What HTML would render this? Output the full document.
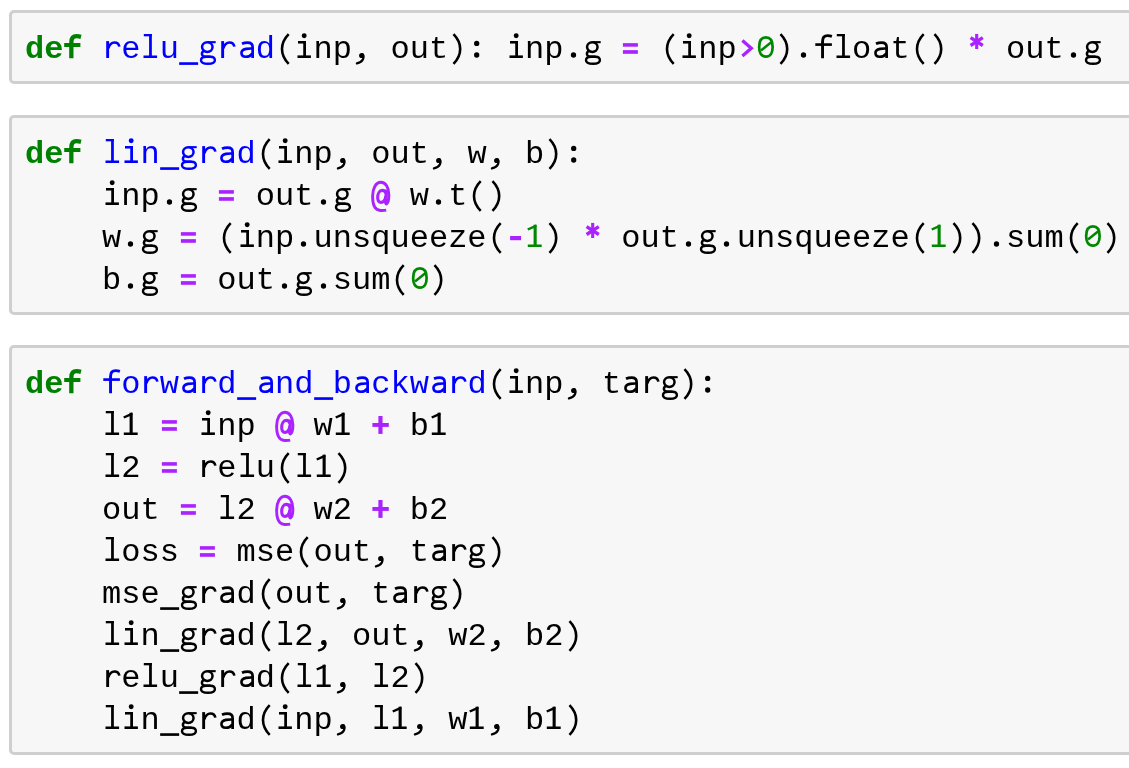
<!DOCTYPE html>
<html><head><meta charset="utf-8">
<style>
html,body{margin:0;padding:0;background:#fff;width:1129px;height:768px;overflow:hidden;position:relative}
.box{position:absolute;left:9px;width:1200px;box-sizing:border-box;border:3px solid #cfcfcf;border-radius:5px;background:#f7f7f7}
.code{position:absolute;left:25.3px;margin:0;font-family:"Liberation Mono",monospace;font-size:32.05px;line-height:42px;color:#000;white-space:pre;-webkit-font-smoothing:antialiased;will-change:transform}
.k{color:#008000;font-weight:bold}
.f{color:#0000ff}
.o{color:#aa22ff;font-weight:bold}
.n{color:#008800}
.G{position:relative;color:transparent}
.sv{position:absolute;left:0;top:0;width:19.2333px;height:37px;overflow:visible}
.G.f .sv{color:#0000ff} .G .sv{color:#000} .G.n .sv{color:#008800} .G.o .sv{color:#aa22ff} .G.k .sv{color:#008000}
.U{position:relative;top:3px}
</style></head><body>
<svg width="0" height="0" style="position:absolute"><defs>
<g id="gG" fill="none" stroke="currentColor">
<ellipse cx="9.3" cy="-10.95" rx="5.25" ry="4.85" stroke-width="2.5"/>
<path d="M10 -15.85 H17.7" stroke-width="2.1"/>
<path d="M5.4 -7.2 Q3.0 -4.8 4.4 -2.6 Q5.2 -1.4 8 -1.3 L12.5 -1.25" stroke-width="2.4"/>
<path d="M8 -1.3 L12.5 -1.25 C15.8 -1.2 16.9 0.2 16.9 2.2 C16.9 4.4 14.4 5.8 10 5.8 C5.5 5.8 3.0 4.3 3.0 2.3 C3.0 0.5 4.5 -1.3 8 -1.3 Z" stroke-width="2.4"/>
</g>
<g id="gZ" fill="none" stroke="currentColor">
<path d="M9.9 -20.7 C14.8 -20.7 16.65 -16.4 16.65 -11.0 C16.65 -5.6 14.8 -1.3 9.9 -1.3 C5.0 -1.3 3.15 -5.6 3.15 -11.0 C3.15 -16.4 5.0 -20.7 9.9 -20.7 Z" stroke-width="2.7"/>
<path d="M5.0 -7.6 L15.3 -15.7" stroke-width="2.5"/>
</g>
<g id="gA" fill="none" stroke="currentColor">
<path d="M15.2 5.1 C13.5 5.5 11.5 5.5 9.5 5.45 C4.5 5.3 1.6 0 1.6 -8.7 C1.6 -17 5 -22.7 9.8 -22.7 C14.6 -22.7 17.9 -17.5 17.9 -10 C17.9 -4.5 16.8 -1.1 14.8 -1.1" stroke-width="2.9"/>
<path d="M15 -11.5 C14.2 -14.2 12.8 -14.6 11.2 -14.6 C8.2 -14.6 6.7 -11 6.7 -7.5 C6.7 -4 8 -2.6 10 -2.6 C12.5 -2.6 14.2 -5 15 -9" stroke-width="3.1"/>
<path d="M15.6 -15.4 L14.6 -4 C14.4 -1.8 14.8 -1.1 15.6 -1.1" stroke-width="3.1"/>
</g>
<g id="gD"><circle cx="9.5" cy="-3.0" r="2.65" fill="currentColor"/></g>
<g id="gS" fill="none" stroke="currentColor" stroke-width="3.1">
<path d="M9.7 -24.1 V-9.0"/>
<path d="M3.6 -20.5 L15.8 -12.5" stroke-width="3.3"/>
<path d="M3.6 -12.5 L15.8 -20.5" stroke-width="3.3"/>
</g>
<g id="gE" fill="currentColor">
<rect x="1.9" y="-14.85" width="15.0" height="3.55"/>
<rect x="1.9" y="-7.85" width="15.0" height="3.65"/>
</g>
<g id="gP" fill="none" stroke="currentColor" stroke-width="2.6">
<path d="M13.7 -23.9 C8.9 -19 7.0 -14 7.0 -9.0 C7.0 -4 8.9 1 13.7 5.9"/>
</g>
<g id="gQ" fill="none" stroke="currentColor" stroke-width="2.6">
<path d="M5.5 -23.9 C10.3 -19 12.2 -14 12.2 -9.0 C12.2 -4 10.3 1 5.5 5.9"/>
</g>
<g id="gC"><circle cx="9.7" cy="-2.5" r="2.6" fill="currentColor"/>
<path d="M10.5 -3.7 C12.6 -1.1 11.6 3.8 4.9 5.4" fill="none" stroke="currentColor" stroke-width="2.2" stroke-linecap="round"/></g>
<g id="gK" fill="currentColor"><circle cx="9.7" cy="-14.6" r="2.65"/><circle cx="9.7" cy="-3.0" r="2.65"/></g>
<g id="gM" fill="currentColor"><rect x="4.1" y="-11.0" width="11.0" height="4.2"/></g>
<g id="gR" fill="none" stroke="currentColor" stroke-width="3.3" stroke-linejoin="miter">
<path d="M5.4 -17.4 L14.3 -9.7 L5.4 -2.0"/>
</g>
<g id="gL" fill="currentColor"><rect x="7.4" y="-19.0" width="4.15" height="17.9"/><rect x="1.4" y="-12.0" width="16.4" height="3.9"/></g>
<g id="gI" fill="currentColor">
<rect x="3.8" y="-24.0" width="8.0" height="2.3"/>
<rect x="9.1" y="-24.0" width="2.75" height="24.0"/>
<rect x="3.5" y="-2.5" width="13.6" height="2.5"/>
</g>
<g id="gO" fill="currentColor">
<rect x="8.6" y="-22.3" width="3.1" height="22.3"/>
<path d="M2.2 -18.5 L11.0 -22.5 L11.5 -20.0 L3.3 -16.4 Z"/>
<rect x="2.8" y="-2.5" width="13.9" height="2.5"/>
</g>
<g id="gU" fill="currentColor"><rect x="0.15" y="4.25" width="19.0" height="2.65"/></g>
<g id="gF"><path d="M8.55 0.2 V-16.5 C8.55 -21.2 10.8 -22.35 13.6 -22.35 C15.4 -22.35 16.7 -22.0 17.9 -21.6" fill="none" stroke="currentColor" stroke-width="2.9"/>
<rect x="1.3" y="-14.75" width="16.6" height="2.65" fill="currentColor"/></g>
<g id="gFB"><path d="M8.35 0.2 V-15.5 C8.35 -20.8 10.8 -21.8 13.6 -21.8 C15.6 -21.8 16.9 -21.5 18.0 -21.2" fill="none" stroke="currentColor" stroke-width="4.3"/>
<rect x="1.2" y="-15.0" width="16.2" height="4.0" fill="currentColor"/></g>
<g id="gII" fill="currentColor">
<circle cx="10.2" cy="-22.3" r="2.45"/>
<rect x="4.0" y="-17.0" width="8.0" height="2.55"/>
<rect x="9.25" y="-17.0" width="2.75" height="17.0"/>
<rect x="3.5" y="-2.6" width="13.4" height="2.6"/>
</g>
<g id="gRr" fill="none" stroke="currentColor" transform="translate(0.7 0)">
<path d="M4.95 -16.9 V0" stroke-width="2.9"/>
<path d="M5.6 -9.6 C6.9 -13.8 9.2 -15.5 11.8 -15.5 C14.6 -15.5 16.1 -14.6 16.65 -11.4" stroke-width="2.6"/>
</g>
<g id="gAa" fill="none" stroke="currentColor" transform="translate(0.8 0)">
<path d="M4.2 -14.2 C6 -15.1 8 -15.35 9.8 -15.35 C13.3 -15.35 14.85 -14.0 14.85 -10.8 V0" stroke-width="2.7"/>
<path d="M14.85 -9.5 C12 -9.6 3.65 -9.9 3.65 -4.9 C3.65 -2.3 5.6 -1.25 7.9 -1.25 C10.6 -1.25 13.2 -2.4 14.85 -4.6" stroke-width="2.6"/>
</g>
</defs></svg>
<div class="box" style="top:10px;height:74px"></div>
<div class="box" style="top:115px;height:200px"></div>
<div class="box" style="top:345px;height:410px"></div>
<pre class="code" style="top:29px"><span class="k">de</span><span class="G k">f<svg class="sv" viewBox="0 -27 19.2333 37"><use href="#gFB"/></svg></span> <span class="G f">r<svg class="sv" viewBox="0 -27 19.2333 37"><use href="#gRr"/></svg></span><span class="f">e</span><span class="G f">l<svg class="sv" viewBox="0 -27 19.2333 37"><use href="#gI"/></svg></span><span class="f">u</span><span class="G f">_<svg class="sv" viewBox="0 -27 19.2333 37"><use href="#gU"/></svg></span><span class="G f">g<svg class="sv" viewBox="0 -27 19.2333 37"><use href="#gG"/></svg></span><span class="G f">r<svg class="sv" viewBox="0 -27 19.2333 37"><use href="#gRr"/></svg></span><span class="G f">a<svg class="sv" viewBox="0 -27 19.2333 37"><use href="#gAa"/></svg></span><span class="f">d</span><span class="G ">(<svg class="sv" viewBox="0 -27 19.2333 37"><use href="#gP"/></svg></span><span class="G ">i<svg class="sv" viewBox="0 -27 19.2333 37"><use href="#gII"/></svg></span>np<span class="G ">,<svg class="sv" viewBox="0 -27 19.2333 37"><use href="#gC"/></svg></span> out<span class="G ">)<svg class="sv" viewBox="0 -27 19.2333 37"><use href="#gQ"/></svg></span><span class="G ">:<svg class="sv" viewBox="0 -27 19.2333 37"><use href="#gK"/></svg></span> <span class="G ">i<svg class="sv" viewBox="0 -27 19.2333 37"><use href="#gII"/></svg></span>np<span class="G ">.<svg class="sv" viewBox="0 -27 19.2333 37"><use href="#gD"/></svg></span><span class="G ">g<svg class="sv" viewBox="0 -27 19.2333 37"><use href="#gG"/></svg></span> <span class="G o">=<svg class="sv" viewBox="0 -27 19.2333 37"><use href="#gE"/></svg></span> <span class="G ">(<svg class="sv" viewBox="0 -27 19.2333 37"><use href="#gP"/></svg></span><span class="G ">i<svg class="sv" viewBox="0 -27 19.2333 37"><use href="#gII"/></svg></span>np<span class="G o">&gt;<svg class="sv" viewBox="0 -27 19.2333 37"><use href="#gR"/></svg></span><span class="G n">0<svg class="sv" viewBox="0 -27 19.2333 37"><use href="#gZ"/></svg></span><span class="G ">)<svg class="sv" viewBox="0 -27 19.2333 37"><use href="#gQ"/></svg></span><span class="G ">.<svg class="sv" viewBox="0 -27 19.2333 37"><use href="#gD"/></svg></span><span class="G ">f<svg class="sv" viewBox="0 -27 19.2333 37"><use href="#gF"/></svg></span><span class="G ">l<svg class="sv" viewBox="0 -27 19.2333 37"><use href="#gI"/></svg></span>o<span class="G ">a<svg class="sv" viewBox="0 -27 19.2333 37"><use href="#gAa"/></svg></span>t<span class="G ">(<svg class="sv" viewBox="0 -27 19.2333 37"><use href="#gP"/></svg></span><span class="G ">)<svg class="sv" viewBox="0 -27 19.2333 37"><use href="#gQ"/></svg></span> <span class="G o">*<svg class="sv" viewBox="0 -27 19.2333 37"><use href="#gS"/></svg></span> out<span class="G ">.<svg class="sv" viewBox="0 -27 19.2333 37"><use href="#gD"/></svg></span><span class="G ">g<svg class="sv" viewBox="0 -27 19.2333 37"><use href="#gG"/></svg></span></pre>
<pre class="code" style="top:134px"><span class="k">de</span><span class="G k">f<svg class="sv" viewBox="0 -27 19.2333 37"><use href="#gFB"/></svg></span> <span class="G f">l<svg class="sv" viewBox="0 -27 19.2333 37"><use href="#gI"/></svg></span><span class="G f">i<svg class="sv" viewBox="0 -27 19.2333 37"><use href="#gII"/></svg></span><span class="f">n</span><span class="G f">_<svg class="sv" viewBox="0 -27 19.2333 37"><use href="#gU"/></svg></span><span class="G f">g<svg class="sv" viewBox="0 -27 19.2333 37"><use href="#gG"/></svg></span><span class="G f">r<svg class="sv" viewBox="0 -27 19.2333 37"><use href="#gRr"/></svg></span><span class="G f">a<svg class="sv" viewBox="0 -27 19.2333 37"><use href="#gAa"/></svg></span><span class="f">d</span><span class="G ">(<svg class="sv" viewBox="0 -27 19.2333 37"><use href="#gP"/></svg></span><span class="G ">i<svg class="sv" viewBox="0 -27 19.2333 37"><use href="#gII"/></svg></span>np<span class="G ">,<svg class="sv" viewBox="0 -27 19.2333 37"><use href="#gC"/></svg></span> out<span class="G ">,<svg class="sv" viewBox="0 -27 19.2333 37"><use href="#gC"/></svg></span> w<span class="G ">,<svg class="sv" viewBox="0 -27 19.2333 37"><use href="#gC"/></svg></span> b<span class="G ">)<svg class="sv" viewBox="0 -27 19.2333 37"><use href="#gQ"/></svg></span><span class="G ">:<svg class="sv" viewBox="0 -27 19.2333 37"><use href="#gK"/></svg></span>
    <span class="G ">i<svg class="sv" viewBox="0 -27 19.2333 37"><use href="#gII"/></svg></span>np<span class="G ">.<svg class="sv" viewBox="0 -27 19.2333 37"><use href="#gD"/></svg></span><span class="G ">g<svg class="sv" viewBox="0 -27 19.2333 37"><use href="#gG"/></svg></span> <span class="G o">=<svg class="sv" viewBox="0 -27 19.2333 37"><use href="#gE"/></svg></span> out<span class="G ">.<svg class="sv" viewBox="0 -27 19.2333 37"><use href="#gD"/></svg></span><span class="G ">g<svg class="sv" viewBox="0 -27 19.2333 37"><use href="#gG"/></svg></span> <span class="G o">@<svg class="sv" viewBox="0 -27 19.2333 37"><use href="#gA"/></svg></span> w<span class="G ">.<svg class="sv" viewBox="0 -27 19.2333 37"><use href="#gD"/></svg></span>t<span class="G ">(<svg class="sv" viewBox="0 -27 19.2333 37"><use href="#gP"/></svg></span><span class="G ">)<svg class="sv" viewBox="0 -27 19.2333 37"><use href="#gQ"/></svg></span>
    w<span class="G ">.<svg class="sv" viewBox="0 -27 19.2333 37"><use href="#gD"/></svg></span><span class="G ">g<svg class="sv" viewBox="0 -27 19.2333 37"><use href="#gG"/></svg></span> <span class="G o">=<svg class="sv" viewBox="0 -27 19.2333 37"><use href="#gE"/></svg></span> <span class="G ">(<svg class="sv" viewBox="0 -27 19.2333 37"><use href="#gP"/></svg></span><span class="G ">i<svg class="sv" viewBox="0 -27 19.2333 37"><use href="#gII"/></svg></span>np<span class="G ">.<svg class="sv" viewBox="0 -27 19.2333 37"><use href="#gD"/></svg></span>unsqueeze<span class="G ">(<svg class="sv" viewBox="0 -27 19.2333 37"><use href="#gP"/></svg></span><span class="G o">-<svg class="sv" viewBox="0 -27 19.2333 37"><use href="#gM"/></svg></span><span class="G n">1<svg class="sv" viewBox="0 -27 19.2333 37"><use href="#gO"/></svg></span><span class="G ">)<svg class="sv" viewBox="0 -27 19.2333 37"><use href="#gQ"/></svg></span> <span class="G o">*<svg class="sv" viewBox="0 -27 19.2333 37"><use href="#gS"/></svg></span> out<span class="G ">.<svg class="sv" viewBox="0 -27 19.2333 37"><use href="#gD"/></svg></span><span class="G ">g<svg class="sv" viewBox="0 -27 19.2333 37"><use href="#gG"/></svg></span><span class="G ">.<svg class="sv" viewBox="0 -27 19.2333 37"><use href="#gD"/></svg></span>unsqueeze<span class="G ">(<svg class="sv" viewBox="0 -27 19.2333 37"><use href="#gP"/></svg></span><span class="G n">1<svg class="sv" viewBox="0 -27 19.2333 37"><use href="#gO"/></svg></span><span class="G ">)<svg class="sv" viewBox="0 -27 19.2333 37"><use href="#gQ"/></svg></span><span class="G ">)<svg class="sv" viewBox="0 -27 19.2333 37"><use href="#gQ"/></svg></span><span class="G ">.<svg class="sv" viewBox="0 -27 19.2333 37"><use href="#gD"/></svg></span>sum<span class="G ">(<svg class="sv" viewBox="0 -27 19.2333 37"><use href="#gP"/></svg></span><span class="G n">0<svg class="sv" viewBox="0 -27 19.2333 37"><use href="#gZ"/></svg></span><span class="G ">)<svg class="sv" viewBox="0 -27 19.2333 37"><use href="#gQ"/></svg></span>
    b<span class="G ">.<svg class="sv" viewBox="0 -27 19.2333 37"><use href="#gD"/></svg></span><span class="G ">g<svg class="sv" viewBox="0 -27 19.2333 37"><use href="#gG"/></svg></span> <span class="G o">=<svg class="sv" viewBox="0 -27 19.2333 37"><use href="#gE"/></svg></span> out<span class="G ">.<svg class="sv" viewBox="0 -27 19.2333 37"><use href="#gD"/></svg></span><span class="G ">g<svg class="sv" viewBox="0 -27 19.2333 37"><use href="#gG"/></svg></span><span class="G ">.<svg class="sv" viewBox="0 -27 19.2333 37"><use href="#gD"/></svg></span>sum<span class="G ">(<svg class="sv" viewBox="0 -27 19.2333 37"><use href="#gP"/></svg></span><span class="G n">0<svg class="sv" viewBox="0 -27 19.2333 37"><use href="#gZ"/></svg></span><span class="G ">)<svg class="sv" viewBox="0 -27 19.2333 37"><use href="#gQ"/></svg></span></pre>
<pre class="code" style="top:364px"><span class="k">de</span><span class="G k">f<svg class="sv" viewBox="0 -27 19.2333 37"><use href="#gFB"/></svg></span> <span class="G f">f<svg class="sv" viewBox="0 -27 19.2333 37"><use href="#gF"/></svg></span><span class="f">o</span><span class="G f">r<svg class="sv" viewBox="0 -27 19.2333 37"><use href="#gRr"/></svg></span><span class="f">w</span><span class="G f">a<svg class="sv" viewBox="0 -27 19.2333 37"><use href="#gAa"/></svg></span><span class="G f">r<svg class="sv" viewBox="0 -27 19.2333 37"><use href="#gRr"/></svg></span><span class="f">d</span><span class="G f">_<svg class="sv" viewBox="0 -27 19.2333 37"><use href="#gU"/></svg></span><span class="G f">a<svg class="sv" viewBox="0 -27 19.2333 37"><use href="#gAa"/></svg></span><span class="f">nd</span><span class="G f">_<svg class="sv" viewBox="0 -27 19.2333 37"><use href="#gU"/></svg></span><span class="f">b</span><span class="G f">a<svg class="sv" viewBox="0 -27 19.2333 37"><use href="#gAa"/></svg></span><span class="f">ckw</span><span class="G f">a<svg class="sv" viewBox="0 -27 19.2333 37"><use href="#gAa"/></svg></span><span class="G f">r<svg class="sv" viewBox="0 -27 19.2333 37"><use href="#gRr"/></svg></span><span class="f">d</span><span class="G ">(<svg class="sv" viewBox="0 -27 19.2333 37"><use href="#gP"/></svg></span><span class="G ">i<svg class="sv" viewBox="0 -27 19.2333 37"><use href="#gII"/></svg></span>np<span class="G ">,<svg class="sv" viewBox="0 -27 19.2333 37"><use href="#gC"/></svg></span> t<span class="G ">a<svg class="sv" viewBox="0 -27 19.2333 37"><use href="#gAa"/></svg></span><span class="G ">r<svg class="sv" viewBox="0 -27 19.2333 37"><use href="#gRr"/></svg></span><span class="G ">g<svg class="sv" viewBox="0 -27 19.2333 37"><use href="#gG"/></svg></span><span class="G ">)<svg class="sv" viewBox="0 -27 19.2333 37"><use href="#gQ"/></svg></span><span class="G ">:<svg class="sv" viewBox="0 -27 19.2333 37"><use href="#gK"/></svg></span>
    <span class="G ">l<svg class="sv" viewBox="0 -27 19.2333 37"><use href="#gI"/></svg></span><span class="G ">1<svg class="sv" viewBox="0 -27 19.2333 37"><use href="#gO"/></svg></span> <span class="G o">=<svg class="sv" viewBox="0 -27 19.2333 37"><use href="#gE"/></svg></span> <span class="G ">i<svg class="sv" viewBox="0 -27 19.2333 37"><use href="#gII"/></svg></span>np <span class="G o">@<svg class="sv" viewBox="0 -27 19.2333 37"><use href="#gA"/></svg></span> w<span class="G ">1<svg class="sv" viewBox="0 -27 19.2333 37"><use href="#gO"/></svg></span> <span class="G o">+<svg class="sv" viewBox="0 -27 19.2333 37"><use href="#gL"/></svg></span> b<span class="G ">1<svg class="sv" viewBox="0 -27 19.2333 37"><use href="#gO"/></svg></span>
    <span class="G ">l<svg class="sv" viewBox="0 -27 19.2333 37"><use href="#gI"/></svg></span>2 <span class="G o">=<svg class="sv" viewBox="0 -27 19.2333 37"><use href="#gE"/></svg></span> <span class="G ">r<svg class="sv" viewBox="0 -27 19.2333 37"><use href="#gRr"/></svg></span>e<span class="G ">l<svg class="sv" viewBox="0 -27 19.2333 37"><use href="#gI"/></svg></span>u<span class="G ">(<svg class="sv" viewBox="0 -27 19.2333 37"><use href="#gP"/></svg></span><span class="G ">l<svg class="sv" viewBox="0 -27 19.2333 37"><use href="#gI"/></svg></span><span class="G ">1<svg class="sv" viewBox="0 -27 19.2333 37"><use href="#gO"/></svg></span><span class="G ">)<svg class="sv" viewBox="0 -27 19.2333 37"><use href="#gQ"/></svg></span>
    out <span class="G o">=<svg class="sv" viewBox="0 -27 19.2333 37"><use href="#gE"/></svg></span> <span class="G ">l<svg class="sv" viewBox="0 -27 19.2333 37"><use href="#gI"/></svg></span>2 <span class="G o">@<svg class="sv" viewBox="0 -27 19.2333 37"><use href="#gA"/></svg></span> w2 <span class="G o">+<svg class="sv" viewBox="0 -27 19.2333 37"><use href="#gL"/></svg></span> b2
    <span class="G ">l<svg class="sv" viewBox="0 -27 19.2333 37"><use href="#gI"/></svg></span>oss <span class="G o">=<svg class="sv" viewBox="0 -27 19.2333 37"><use href="#gE"/></svg></span> mse<span class="G ">(<svg class="sv" viewBox="0 -27 19.2333 37"><use href="#gP"/></svg></span>out<span class="G ">,<svg class="sv" viewBox="0 -27 19.2333 37"><use href="#gC"/></svg></span> t<span class="G ">a<svg class="sv" viewBox="0 -27 19.2333 37"><use href="#gAa"/></svg></span><span class="G ">r<svg class="sv" viewBox="0 -27 19.2333 37"><use href="#gRr"/></svg></span><span class="G ">g<svg class="sv" viewBox="0 -27 19.2333 37"><use href="#gG"/></svg></span><span class="G ">)<svg class="sv" viewBox="0 -27 19.2333 37"><use href="#gQ"/></svg></span>
    mse<span class="G ">_<svg class="sv" viewBox="0 -27 19.2333 37"><use href="#gU"/></svg></span><span class="G ">g<svg class="sv" viewBox="0 -27 19.2333 37"><use href="#gG"/></svg></span><span class="G ">r<svg class="sv" viewBox="0 -27 19.2333 37"><use href="#gRr"/></svg></span><span class="G ">a<svg class="sv" viewBox="0 -27 19.2333 37"><use href="#gAa"/></svg></span>d<span class="G ">(<svg class="sv" viewBox="0 -27 19.2333 37"><use href="#gP"/></svg></span>out<span class="G ">,<svg class="sv" viewBox="0 -27 19.2333 37"><use href="#gC"/></svg></span> t<span class="G ">a<svg class="sv" viewBox="0 -27 19.2333 37"><use href="#gAa"/></svg></span><span class="G ">r<svg class="sv" viewBox="0 -27 19.2333 37"><use href="#gRr"/></svg></span><span class="G ">g<svg class="sv" viewBox="0 -27 19.2333 37"><use href="#gG"/></svg></span><span class="G ">)<svg class="sv" viewBox="0 -27 19.2333 37"><use href="#gQ"/></svg></span>
    <span class="G ">l<svg class="sv" viewBox="0 -27 19.2333 37"><use href="#gI"/></svg></span><span class="G ">i<svg class="sv" viewBox="0 -27 19.2333 37"><use href="#gII"/></svg></span>n<span class="G ">_<svg class="sv" viewBox="0 -27 19.2333 37"><use href="#gU"/></svg></span><span class="G ">g<svg class="sv" viewBox="0 -27 19.2333 37"><use href="#gG"/></svg></span><span class="G ">r<svg class="sv" viewBox="0 -27 19.2333 37"><use href="#gRr"/></svg></span><span class="G ">a<svg class="sv" viewBox="0 -27 19.2333 37"><use href="#gAa"/></svg></span>d<span class="G ">(<svg class="sv" viewBox="0 -27 19.2333 37"><use href="#gP"/></svg></span><span class="G ">l<svg class="sv" viewBox="0 -27 19.2333 37"><use href="#gI"/></svg></span>2<span class="G ">,<svg class="sv" viewBox="0 -27 19.2333 37"><use href="#gC"/></svg></span> out<span class="G ">,<svg class="sv" viewBox="0 -27 19.2333 37"><use href="#gC"/></svg></span> w2<span class="G ">,<svg class="sv" viewBox="0 -27 19.2333 37"><use href="#gC"/></svg></span> b2<span class="G ">)<svg class="sv" viewBox="0 -27 19.2333 37"><use href="#gQ"/></svg></span>
    <span class="G ">r<svg class="sv" viewBox="0 -27 19.2333 37"><use href="#gRr"/></svg></span>e<span class="G ">l<svg class="sv" viewBox="0 -27 19.2333 37"><use href="#gI"/></svg></span>u<span class="G ">_<svg class="sv" viewBox="0 -27 19.2333 37"><use href="#gU"/></svg></span><span class="G ">g<svg class="sv" viewBox="0 -27 19.2333 37"><use href="#gG"/></svg></span><span class="G ">r<svg class="sv" viewBox="0 -27 19.2333 37"><use href="#gRr"/></svg></span><span class="G ">a<svg class="sv" viewBox="0 -27 19.2333 37"><use href="#gAa"/></svg></span>d<span class="G ">(<svg class="sv" viewBox="0 -27 19.2333 37"><use href="#gP"/></svg></span><span class="G ">l<svg class="sv" viewBox="0 -27 19.2333 37"><use href="#gI"/></svg></span><span class="G ">1<svg class="sv" viewBox="0 -27 19.2333 37"><use href="#gO"/></svg></span><span class="G ">,<svg class="sv" viewBox="0 -27 19.2333 37"><use href="#gC"/></svg></span> <span class="G ">l<svg class="sv" viewBox="0 -27 19.2333 37"><use href="#gI"/></svg></span>2<span class="G ">)<svg class="sv" viewBox="0 -27 19.2333 37"><use href="#gQ"/></svg></span>
    <span class="G ">l<svg class="sv" viewBox="0 -27 19.2333 37"><use href="#gI"/></svg></span><span class="G ">i<svg class="sv" viewBox="0 -27 19.2333 37"><use href="#gII"/></svg></span>n<span class="G ">_<svg class="sv" viewBox="0 -27 19.2333 37"><use href="#gU"/></svg></span><span class="G ">g<svg class="sv" viewBox="0 -27 19.2333 37"><use href="#gG"/></svg></span><span class="G ">r<svg class="sv" viewBox="0 -27 19.2333 37"><use href="#gRr"/></svg></span><span class="G ">a<svg class="sv" viewBox="0 -27 19.2333 37"><use href="#gAa"/></svg></span>d<span class="G ">(<svg class="sv" viewBox="0 -27 19.2333 37"><use href="#gP"/></svg></span><span class="G ">i<svg class="sv" viewBox="0 -27 19.2333 37"><use href="#gII"/></svg></span>np<span class="G ">,<svg class="sv" viewBox="0 -27 19.2333 37"><use href="#gC"/></svg></span> <span class="G ">l<svg class="sv" viewBox="0 -27 19.2333 37"><use href="#gI"/></svg></span><span class="G ">1<svg class="sv" viewBox="0 -27 19.2333 37"><use href="#gO"/></svg></span><span class="G ">,<svg class="sv" viewBox="0 -27 19.2333 37"><use href="#gC"/></svg></span> w<span class="G ">1<svg class="sv" viewBox="0 -27 19.2333 37"><use href="#gO"/></svg></span><span class="G ">,<svg class="sv" viewBox="0 -27 19.2333 37"><use href="#gC"/></svg></span> b<span class="G ">1<svg class="sv" viewBox="0 -27 19.2333 37"><use href="#gO"/></svg></span><span class="G ">)<svg class="sv" viewBox="0 -27 19.2333 37"><use href="#gQ"/></svg></span></pre>
</body></html>
